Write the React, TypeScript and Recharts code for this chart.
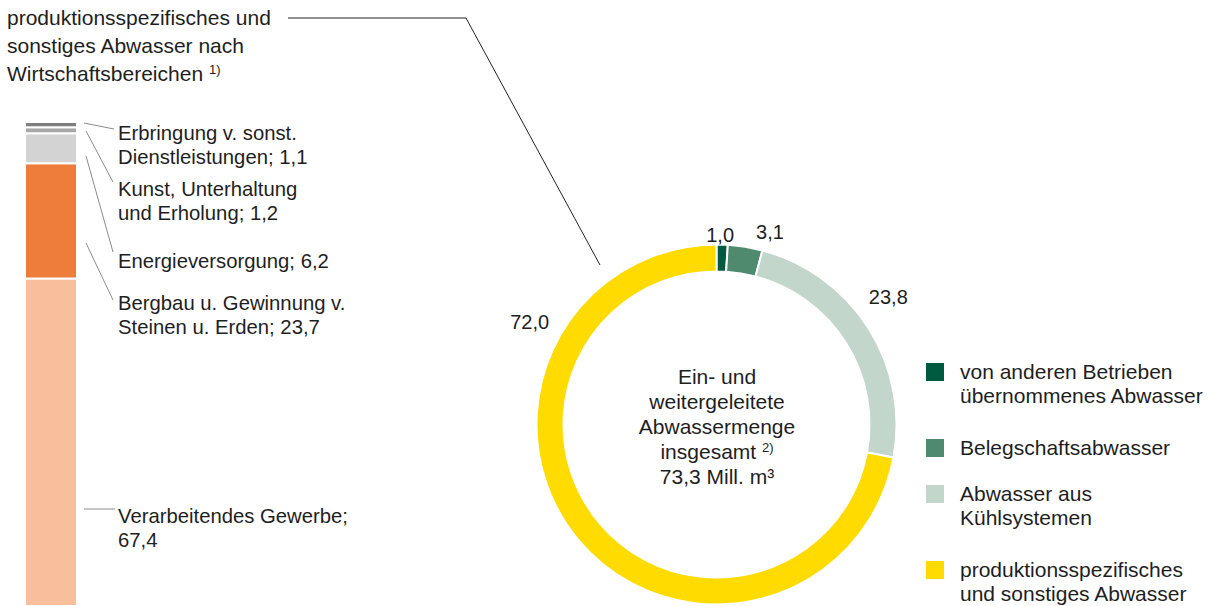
import { BarChart, Bar, XAxis, YAxis, PieChart, Pie, Cell } from "recharts"

// Wirtschaftsbereiche (Anteil in %), von unten nach oben gestapelt
const BRANCHES = [
  "Verarbeitendes Gewerbe",
  "Bergbau u. Gewinnung v. Steinen u. Erden",
  "Energieversorgung",
  "Kunst, Unterhaltung und Erholung",
  "Erbringung v. sonst. Dienstleistungen",
]
const BRANCH_VALUES = [67.4, 23.7, 6.2, 1.2, 1.1]
const BRANCH_COLORS = ["#f7bf9b", "#ee7c3b", "#d3d3d3", "#a8a8a8", "#7f7f7f"]
const BRANCH_LABELS = [
  ["Verarbeitendes Gewerbe;", "67,4"],
  ["Bergbau u. Gewinnung v.", "Steinen u. Erden; 23,7"],
  ["Energieversorgung; 6,2"],
  ["Kunst, Unterhaltung", "und Erholung; 1,2"],
  ["Erbringung v. sonst.", "Dienstleistungen; 1,1"],
]

// Abwasserarten (Anteil in %)
const TYPES = [
  "von anderen Betrieben übernommenes Abwasser",
  "Belegschaftsabwasser",
  "Abwasser aus Kühlsystemen",
  "produktionsspezifisches und sonstiges Abwasser",
]
const TYPE_VALUES = [1.0, 3.1, 23.8, 72.0]
const TYPE_COLORS = ["#005a3f", "#4f8a6f", "#c3d6cb", "#ffdb00"]
const LEGEND_LINES = [
  ["von anderen Betrieben", "übernommenes Abwasser"],
  ["Belegschaftsabwasser"],
  ["Abwasser aus", "Kühlsystemen"],
  ["produktionsspezifisches", "und sonstiges Abwasser"],
]

const FONT = "'Liberation Sans', Arial, sans-serif"
const TEXT = "#1e1e1e"

const barRow: Record<string, number | string> = { name: "Bereiche" }
BRANCHES.forEach((_, i) => (barRow["b" + i] = BRANCH_VALUES[i]))
const barData = [barRow]
const barTotal = BRANCH_VALUES.reduce((a, b) => a + b, 0)

const pieData = TYPES.map((name, i) => ({ name, value: TYPE_VALUES[i] }))

// label placement (angle in degrees, radius in px)
const LABEL_ANGLES = [88.9, 74.5, 36.6, 151.3]
const LABEL_RADII = [190, 200, 214, 213]
const RAD = Math.PI / 180

const fmt = (v: number) => v.toFixed(1).replace(".", ",")

function renderPieLabel(props: any) {
  const { cx, cy, index, value } = props
  const a = LABEL_ANGLES[index]
  const r = LABEL_RADII[index]
  const x = cx + r * Math.cos(-a * RAD)
  const y = cy + r * Math.sin(-a * RAD)
  return (
    <text
      x={x}
      y={y}
      textAnchor="middle"
      dominantBaseline="central"
      fill={TEXT}
      fontSize={20}
      fontFamily={FONT}
    >
      {fmt(value)}
    </text>
  )
}

// left label blocks: top of first line
const BRANCH_LABEL_TOP = [504, 291, 249, 177, 121]

const LEGEND_TOP = [360, 436, 482, 558]

const sup = { fontSize: 13, verticalAlign: 7, lineHeight: 0 }

export default function App() {
  return (
    <div
      style={{
        position: "relative",
        width: 1216,
        height: 606,
        overflow: "hidden",
        background: "#fff",
        fontFamily: FONT,
        color: TEXT,
      }}
    >
      <style>{"body{margin:0}"}</style>

      {/* title */}
      <div style={{ position: "absolute", left: 7, top: 4, fontSize: 21, lineHeight: "28px", whiteSpace: "nowrap" }}>
        <div style={{ height: 28 }}>produktionsspezifisches und</div>
        <div style={{ height: 28 }}>sonstiges Abwasser nach</div>
        <div style={{ height: 28 }}>
          Wirtschaftsbereichen <sup style={sup}>1)</sup>
        </div>
      </div>

      {/* stacked bar */}
      <div style={{ position: "absolute", left: 25, top: 122 }}>
        <BarChart width={52} height={484} data={barData} margin={{ top: 0, right: 0, bottom: 0, left: 0 }} barCategoryGap={0}>
          <XAxis dataKey="name" hide />
          <YAxis hide domain={[0, barTotal]} />
          {BRANCHES.map((b, i) => (
            <Bar
              key={b}
              dataKey={"b" + i}
              name={b}
              stackId="a"
              fill={BRANCH_COLORS[i]}
              stroke="#fff"
              strokeWidth={2}
              isAnimationActive={false}
            />
          ))}
        </BarChart>
      </div>

      {/* left labels */}
      {BRANCH_LABELS.map((lines, i) => (
        <div
          key={i}
          style={{ position: "absolute", left: 118, top: BRANCH_LABEL_TOP[i], fontSize: 20.3, lineHeight: "24px", whiteSpace: "nowrap" }}
        >
          {lines.map((l, j) => (
            <div key={j}>{l}</div>
          ))}
        </div>
      ))}

      {/* donut */}
      <div style={{ position: "absolute", left: 476, top: 184 }}>
        <PieChart width={480} height={480} margin={{ top: 0, right: 0, bottom: 0, left: 0 }}>
          <Pie
            data={pieData}
            dataKey="value"
            cx={240.5}
            cy={240.5}
            innerRadius={153}
            outerRadius={180}
            startAngle={90}
            endAngle={-270}
            stroke="#fff"
            strokeWidth={2}
            label={renderPieLabel}
            labelLine={false}
            isAnimationActive={false}
          >
            {pieData.map((d, i) => (
              <Cell key={d.name} fill={TYPE_COLORS[i]} />
            ))}
          </Pie>
        </PieChart>
      </div>

      {/* centre text */}
      <div
        style={{
          position: "absolute",
          left: 617,
          width: 200,
          top: 364,
          textAlign: "center",
          fontSize: 21,
          lineHeight: "25px",
          whiteSpace: "nowrap",
        }}
      >
        <div style={{ height: 25 }}>Ein- und</div>
        <div style={{ height: 25 }}>weitergeleitete</div>
        <div style={{ height: 25 }}>Abwassermenge</div>
        <div style={{ height: 25 }}>
          insgesamt <sup style={sup}>2)</sup>
        </div>
        <div style={{ height: 25 }}>73,3 Mill. m³</div>
      </div>

      {/* legend */}
      {TYPES.map((t, i) => (
        <div key={t}>
          <div
            style={{ position: "absolute", left: 926, top: LEGEND_TOP[i] + 3, width: 18, height: 18, background: TYPE_COLORS[i] }}
          />
          <div
            style={{ position: "absolute", left: 960, top: LEGEND_TOP[i], fontSize: 21, lineHeight: "24px", whiteSpace: "nowrap" }}
          >
            {LEGEND_LINES[i].map((l, j) => (
              <div key={j}>{l}</div>
            ))}
          </div>
        </div>
      ))}

      {/* leader lines */}
      <svg width={1216} height={606} style={{ position: "absolute", left: 0, top: 0, pointerEvents: "none" }}>
        <polyline points="288,18 466,18 600,265" fill="none" stroke="#222" strokeWidth={1} />
        <g stroke="#8c8c8c" strokeWidth={1} fill="none">
          <line x1={84} y1={123} x2={114} y2={129} />
          <line x1={86} y1={131} x2={113} y2={182} />
          <line x1={86} y1={156} x2={113} y2={252} />
          <line x1={86} y1={243} x2={113} y2={300} />
          <line x1={84} y1={509} x2={115} y2={509} />
        </g>
      </svg>
    </div>
  )
}
